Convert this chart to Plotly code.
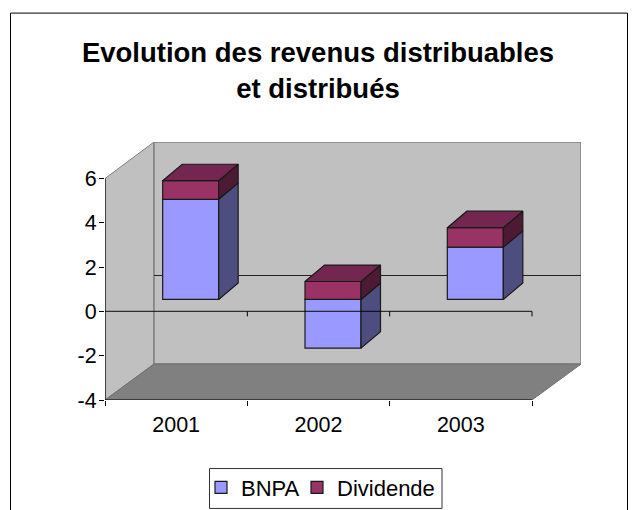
import plotly.graph_objects as go

categories = ["2001", "2002", "2003"]
bnpa = [4.52, -2.2, 2.36]
dividende = [0.84, 0.81, 0.88]
y_ticks = [-4, -2, 0, 2, 4, 6]
y_labels = ["-4", "-2", "0", "2", "4", "6"]
title_lines = ["Evolution des revenus distribuables", "et distribués"]

W, H = 637, 510
L, R, T, B = 105, 581, 141.7, 400.3
PX = (532 - 105) / 3.0
PY = (400.3 - 311.5) / 4.0
Y_TOP = (311.5 - T) / PY
X_END = (R - L) / PX

BACK_X, BACK_Y = 49 / PX, 36 / PY
SHIFT_X, SHIFT_Y = 14.5 / PX, 12 / PY
DEPTH_X, DEPTH_Y = 19.5 / PX, 16.5 / PY
BAR_W = 56 / PX
centres = [i + 0.5 + SHIFT_X for i in range(len(categories))]
INK = "#1a1a1a"

COL_B, COL_B_SIDE = "#9999FF", "#4D4D80"
COL_D, COL_D_SIDE, COL_D_TOP = "#993366", "#4D1A33", "#732650"

fig = go.Figure()
bases_d = [SHIFT_Y + max(v, 0) for v in bnpa]
fig.add_bar(x=centres, y=bnpa, base=[SHIFT_Y] * 3, width=BAR_W, name="BNPA", legend="legend",
            marker=dict(color=COL_B, line=dict(color=INK, width=1.2)))
fig.add_bar(x=centres, y=dividende, base=bases_d, width=BAR_W, name="Dividende", legend="legend2",
            marker=dict(color=COL_D, line=dict(color=INK, width=1.2)))


def poly(xs, ys, color):
    fig.add_scatter(x=xs + xs[:1], y=ys + ys[:1], mode="lines", fill="toself",
                    fillcolor=color, line=dict(color=INK, width=1.2),
                    hoverinfo="skip", showlegend=False)


for c, b, d, bd in zip(centres, bnpa, dividende, bases_d):
    r = c + BAR_W / 2
    l = c - BAR_W / 2
    lo = SHIFT_Y + min(b, 0)
    hi = SHIFT_Y + max(b, 0)
    top = bd + d
    poly([r, r + DEPTH_X, r + DEPTH_X, r], [lo, lo + DEPTH_Y, hi + DEPTH_Y, hi], COL_B_SIDE)
    poly([r, r + DEPTH_X, r + DEPTH_X, r], [bd, bd + DEPTH_Y, top + DEPTH_Y, top], COL_D_SIDE)
    poly([l, l + DEPTH_X, r + DEPTH_X, r], [top, top + DEPTH_Y, top + DEPTH_Y, top], COL_D_TOP)

WALL, EDGE, FLOOR = "#C0C0C0", "#808080", "#808080"


def path(pts):
    return "M " + " L ".join(f"{x},{y}" for x, y in pts) + " Z"


shapes = [
    dict(type="path", path=path([(0, -4), (BACK_X, -4 + BACK_Y), (BACK_X, Y_TOP), (0, 6)]),
         fillcolor=WALL, line=dict(color=EDGE, width=1), layer="below"),
    dict(type="path", path=path([(BACK_X, -4 + BACK_Y), (X_END, -4 + BACK_Y), (X_END, Y_TOP), (BACK_X, Y_TOP)]),
         fillcolor=WALL, line=dict(color=EDGE, width=1.5), layer="below"),
    dict(type="path", path=path([(0, -4), (BACK_X, -4 + BACK_Y), (X_END, -4 + BACK_Y), (3, -4)]),
         fillcolor=FLOOR, line=dict(color="#707070", width=1), layer="below"),
    dict(type="line", x0=BACK_X, x1=X_END, y0=BACK_Y + 0, y1=BACK_Y + 0,
         line=dict(color="#222222", width=1), layer="below"),
    dict(type="line", x0=0, x1=3, y0=0, y1=0, line=dict(color="rgba(0,0,0,0.75)", width=1.2)),
    dict(type="line", x0=0, x1=3, y0=-4, y1=-4, line=dict(color="#000000", width=1.2)),
    dict(type="line", x0=0, x1=0, y0=-4, y1=6, line=dict(color="#000000", width=1.2)),
]
for t in [1, 2, 3]:
    shapes.append(dict(type="line", x0=t, x1=t, y0=0, y1=-5 / PY,
                       line=dict(color="#000000", width=1)))
pxx = lambda p: (p - L) / (R - L)
pyy = lambda p: (B - p) / (B - T)
shapes.append(dict(type="path", xref="paper", yref="paper",
                   path=f"M {pxx(10.5)},{pyy(H + 5)} L {pxx(10.5)},{pyy(12.5)} L {pxx(627.5)},{pyy(12.5)} L {pxx(627.5)},{pyy(H + 5)}",
                   line=dict(color="#000000", width=1)))
shapes.append(dict(type="rect", xref="paper", yref="paper",
                   x0=pxx(209.5), x1=pxx(442), y0=pyy(509), y1=pyy(469),
                   fillcolor="#FFFFFF", line=dict(color="#333333", width=1)))

FONT = "Liberation Sans, Arial, sans-serif"
legend_style = dict(orientation="h", xanchor="left", y=pyy(467), yanchor="top",
                    bgcolor="rgba(0,0,0,0)", borderwidth=0,
                    font=dict(size=22), itemclick=False)
fig.update_layout(
    width=W, height=H,
    margin=dict(l=L, r=W - R, t=T, b=H - B, autoexpand=False),
    paper_bgcolor="#FFFFFF", plot_bgcolor="rgba(0,0,0,0)",
    barmode="overlay", shapes=shapes,
    font=dict(family=FONT, color="#000000"),
    title=dict(text="<br>".join(title_lines), x=318 / W, xref="container", xanchor="center",
               y=(H - 62) / H, yanchor="top",
               font=dict(family=FONT, size=27.5, color="#000000", weight="bold")),
    xaxis=dict(range=[0, X_END], tickmode="array", tickvals=[0.5, 1.5, 2.5], ticktext=categories,
               showgrid=False, zeroline=False, showline=False, ticks="outside", ticklen=5,
               tickcolor="rgba(0,0,0,0)", tickfont=dict(size=21.5),
               minor=dict(tickmode="array", tickvals=[0, 1, 2, 3], ticks="outside", ticklen=5,
                          tickcolor="#000000", showgrid=False)),
    yaxis=dict(range=[-4, Y_TOP], tickmode="array", tickvals=y_ticks, ticktext=y_labels,
               showgrid=False, zeroline=False, showline=False, ticks="outside", ticklen=5,
               ticklabelstandoff=-2, tickcolor="#000000", tickfont=dict(size=21.5)),
    legend=dict(x=pxx(201), **legend_style),
    legend2=dict(x=pxx(297), **legend_style),
)
fig.write_html("out.html", config={"displayModeBar": False},
               post_script="document.body.style.margin='0';document.body.style.overflow='hidden';")
